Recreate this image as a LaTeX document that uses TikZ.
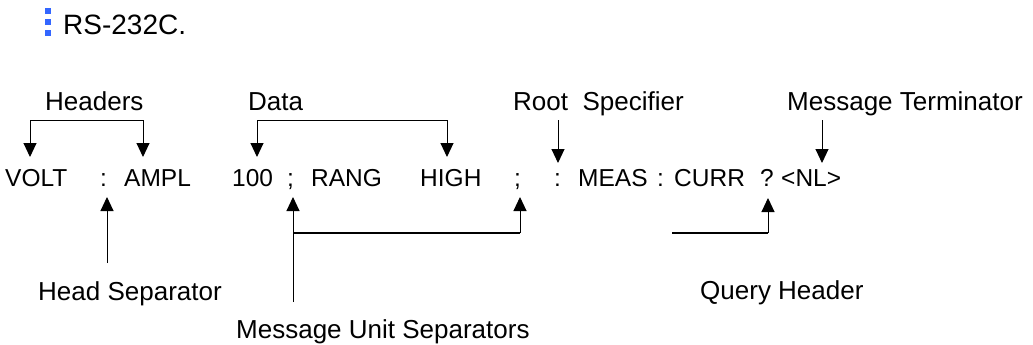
\documentclass[tikz,border=0pt]{standalone}
\usepackage{fontspec}
\setmainfont{Liberation Sans}
\usetikzlibrary{arrows.meta}
\definecolor{dotblue}{RGB}{51,102,255}

\begin{document}
\begin{tikzpicture}[x=1pt,y=-1pt,
  txt/.style={inner sep=0pt,anchor=base west,font=\fontsize{26}{30}\selectfont},
  cmd/.style={inner sep=0pt,anchor=base west,font=\fontsize{24.5}{29}\selectfont},
  ttl/.style={inner sep=0pt,anchor=base west,font=\fontsize{28}{32}\selectfont},
  arr/.style={line width=1pt,-{Triangle[width=13pt,length=14pt]}},
  twoarr/.style={line width=1pt,{Triangle[width=13pt,length=14pt]}-{Triangle[width=13pt,length=14pt]}},
  bar/.style={line width=1.8pt},
  sq/.style={fill=dotblue,draw=none}]
  \useasboundingbox (0,0) rectangle (1033,345);

  \fill[sq] (45,8) rectangle (51,14);
  \fill[sq] (45,19) rectangle (51,25);
  \fill[sq] (45,30) rectangle (51,36);
  \node[ttl] (rs) at (63,35) {RS-232C.};

  \node[txt] (hdrs)  at (45,110)  {Headers};
  \node[txt] (data)  at (248,110) {Data};
  \node[txt] (rootsp) at (513,110) {Root\ \ Specifier};
  \node[txt] (term)  at (787,110) {Message Terminator};

  \node[cmd] (volt)   at (5,186)   {VOLT};
  \node[cmd] (colA)   at (100,186) {:};
  \node[cmd] (ampl)   at (124,186) {AMPL};
  \node[cmd] (val)    at (232,186) {100};
  \node[cmd] (semiA)  at (287,186) {;};
  \node[cmd] (rang)   at (311,186) {RANG};
  \node[cmd] (high)   at (420,186) {HIGH};
  \node[cmd] (semiB)  at (514,186) {;};
  \node[cmd] (colR)   at (554,186) {:};
  \node[cmd] (meas)   at (578,186) {MEAS};
  \node[cmd] (colB)   at (657,186) {:};
  \node[cmd] (curr)   at (674,186) {CURR};
  \node[cmd] (qmark)  at (760,186) {?};
  \node[cmd] (nl)     at (781,186) {<NL>};

  \node[txt] (headsep) at (38,300)  {Head Separator};
  \node[txt] (musep)   at (236,338) {Message Unit Separators};
  \node[txt] (qhdr)    at (700,299) {Query Header};

  \coordinate (tvolt) at (30,157);
  \coordinate (tampl) at (143,157);
  \coordinate (tval)  at (257,157);
  \coordinate (thigh) at (447,157);
  \coordinate (troot) at (558,163);
  \coordinate (tnl)   at (822,163);
  \coordinate (tcolA) at (107,197);
  \coordinate (tsemA) at (293,197);
  \coordinate (tsemB) at (520,197);
  \coordinate (tqm)   at (768,198);
  \coordinate (topbar) at (0,120);
  \coordinate (lowbar) at (0,233);

  \draw[twoarr] (tvolt) -- (tvolt |- topbar) -| (tampl);
  \draw[twoarr] (tval) -- (tval |- topbar) -| (thigh);
  \draw[arr] (troot |- topbar) -- (troot);
  \draw[arr] (tnl |- topbar) -- (tnl);

  \draw[arr] (tcolA |- 0,263) -- (tcolA);
  \draw[arr] (tsemA |- 0,302) -- (tsemA);
  \draw[arr] (tsemB |- lowbar) -- (tsemB);
  \draw[bar] (tsemA |- lowbar) -- (tsemB |- lowbar);
  \draw[arr] (tqm |- lowbar) -- (tqm);
  \draw[bar] (672,233) -- (tqm |- lowbar);
\end{tikzpicture}
\end{document}
